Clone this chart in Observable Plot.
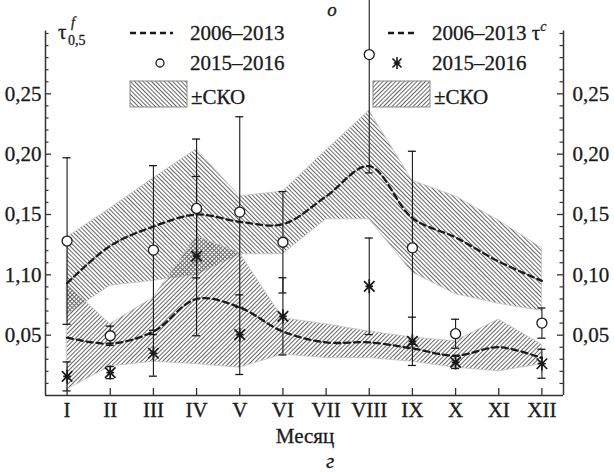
<!DOCTYPE html>
<html><head><meta charset="utf-8">
<script src="https://cdn.jsdelivr.net/npm/d3@7"></script>
<script src="https://cdn.jsdelivr.net/npm/@observablehq/plot@0.6"></script>
<style>body{margin:0;background:#fff} svg text, svg tspan{font-family:"Liberation Serif","DejaVu Serif",serif !important; stroke:#1a1a1a; stroke-width:0.3px;}</style>
</head><body><div id="chart"></div>
<script>
// ---- data ----
const months = [1,2,3,4,5,6,7,8,9,10,11,12];
const monthLabels = ["I","II","III","IV","V","VI","VII","VIII","IX","X","XI","XII"];
// 2006–2013, tau f 0.5 (mean and ±SD)
const fMean  = [0.093,0.124,0.140,0.150,0.144,0.142,0.165,0.190,0.147,0.131,0.111,0.095];
const fUpper = [0.131,0.155,0.180,0.204,0.165,0.169,0.203,0.236,0.178,0.165,0.145,0.122];
const fLower = [0.067,0.091,0.095,0.100,0.117,0.117,0.146,0.146,0.102,0.084,0.076,0.070];
// 2006–2013, tau c (mean and ±SD)
const cMean  = [0.048,0.043,0.053,0.080,0.073,0.053,0.044,0.044,0.039,0.033,0.040,0.031];
const cUpper = [0.092,0.059,0.081,0.132,0.118,0.064,0.059,0.053,0.048,0.045,0.063,0.042];
const cLower = [0.005,0.024,0.028,0.026,0.023,0.034,0.031,0.031,0.028,0.023,0.020,0.026];
// 2015–2016 observations
const obsMonths = [1,2,3,4,5,6,8,9,10,12];
const fObs = [0.128,0.0495,0.1205,0.155,0.152,0.127,0.2825,0.1224,0.0512,0.060];
const fErr = [0.069,0.008,0.070,0.0575,0.079,0.042,0.098,0.080,0.012,0.0125];
const cObs = [0.0158,0.019,0.035,0.1155,0.0504,0.0656,0.0905,0.0449,0.0274,0.0263];
const cErr = [0.012,0.005,0.019,0.066,0.033,0.032,0.040,0.020,0.005,0.012];
// axis ticks
const yMajor = [0.05,0.10,0.15,0.20,0.25];
const yLabelsLeft  = ["0,05","1,10","0,15","0,20","0,25"];
const yLabelsRight = ["0,05","0,10","0,15","0,20","0,25"];
const yMinor = [0.01,0.02,0.03,0.04,0.06,0.07,0.08,0.09,0.11,0.12,0.13,0.14,0.16,0.17,0.18,0.19,0.21,0.22,0.23,0.24,0.26,0.27,0.28,0.29,0.30];

const clim = months.map((m,i)=>({m, fMean:fMean[i], fUpper:fUpper[i], fLower:fLower[i], cMean:cMean[i], cUpper:cUpper[i], cLower:cLower[i]}));
const obs = obsMonths.map((m,i)=>({m, f:fObs[i], fe:fErr[i], c:cObs[i], ce:cErr[i]}));

const FS = 21;
const FF = "Liberation Serif, DejaVu Serif, serif";
const ink = "#1a1a1a";
const axisW = 1.5;

// asterisk: vertical + two diagonals
const star = {draw(ctx, size){
  const r = Math.sqrt(size/Math.PI);
  const d = r*0.75;
  ctx.moveTo(0,-r); ctx.lineTo(0,r);
  ctx.moveTo(-d,-d); ctx.lineTo(d,d);
  ctx.moveTo(-d,d); ctx.lineTo(d,-d);
  ctx.moveTo(-r*0.55,0); ctx.lineTo(r*0.55,0);
}};

const plot = Plot.plot({
  width: 614, height: 472,
  marginTop: 33, marginBottom: 77, marginLeft: 45, marginRight: 51,
  x: {domain: [0.5, 12.5], axis: null},
  y: {domain: [0, 0.3], axis: null},
  style: {fontFamily: FF, fontSize: FS + "px", color: ink, background: "white", overflow: "visible"},
  marks: [
    Plot.areaY(clim, {x:"m", y1:"fLower", y2:"fUpper", fill:"url(#hatchF)", stroke:"#c4c4c4", strokeWidth:0.8}),
    Plot.areaY(clim, {x:"m", y1:"cLower", y2:"cUpper", fill:"url(#hatchC)", stroke:"#c4c4c4", strokeWidth:0.8}),
    Plot.line(clim, {x:"m", y:"fMean", stroke:ink, strokeWidth:2.3, strokeDasharray:"6,4", curve:"catmull-rom"}),
    Plot.line(clim, {x:"m", y:"cMean", stroke:ink, strokeWidth:2.3, strokeDasharray:"6,4", curve:"catmull-rom"}),
    // error bars f
    Plot.ruleX(obs, {x:"m", y1:d=>d.f-d.fe, y2:d=>d.f+d.fe, stroke:ink, strokeWidth:1.1}),
    Plot.ruleY(obs, {x1:"m", x2:"m", y:d=>d.f-d.fe, insetLeft:-4, insetRight:-4, stroke:ink, strokeWidth:1.3}),
    Plot.ruleY(obs, {x1:"m", x2:"m", y:d=>d.f+d.fe, insetLeft:-4, insetRight:-4, stroke:ink, strokeWidth:1.3}),
    // error bars c
    Plot.ruleX(obs, {x:"m", y1:d=>d.c-d.ce, y2:d=>d.c+d.ce, stroke:ink, strokeWidth:1.1}),
    Plot.ruleY(obs, {x1:"m", x2:"m", y:d=>d.c-d.ce, insetLeft:-4, insetRight:-4, stroke:ink, strokeWidth:1.3}),
    Plot.ruleY(obs, {x1:"m", x2:"m", y:d=>d.c+d.ce, insetLeft:-4, insetRight:-4, stroke:ink, strokeWidth:1.3}),
    Plot.dot(obs, {x:"m", y:"c", symbol:star, r:7, stroke:ink, strokeWidth:1.7}),
    Plot.dot(obs, {x:"m", y:"c", r:1.8, fill:ink}),
    Plot.dot(obs, {x:"m", y:"f", r:5, fill:"white", stroke:ink, strokeWidth:1.3}),
    // axes frame
    Plot.ruleX([0.5], {y1:0, y2:0.302, stroke:"#333", strokeWidth:axisW}),
    Plot.ruleX([12.5], {y1:0, y2:0.302, stroke:"#333", strokeWidth:axisW}),
    Plot.ruleY([0], {x1:0.5, x2:12.5, stroke:"#333", strokeWidth:axisW}),
    Plot.ruleY(yMajor, {x1:0.5, x2:0.5, insetRight:-6, stroke:"#333", strokeWidth:1.3}),
    Plot.ruleY(yMinor, {x1:0.5, x2:0.5, insetRight:-3.5, stroke:"#333", strokeWidth:1.2}),
    Plot.ruleY(yMajor, {x1:12.5, x2:12.5, insetLeft:-6, stroke:"#333", strokeWidth:1.3}),
    Plot.ruleY(yMinor, {x1:12.5, x2:12.5, insetLeft:-3.5, stroke:"#333", strokeWidth:1.2}),
    Plot.ruleX(months, {y1:0, y2:0, insetBottom:7, stroke:"#333", strokeWidth:1.3}),
    Plot.text(yMajor, {x:0.5, y:d=>d, text:(d,i)=>yLabelsLeft[i], textAnchor:"end", dx:-4, fontSize:FS, fill:ink}),
    Plot.text(yMajor, {x:12.5, y:d=>d, text:(d,i)=>yLabelsRight[i], textAnchor:"start", dx:9, fontSize:FS, fill:ink}),
    Plot.text(months, {x:d=>d, y:0, text:(d,i)=>monthLabels[i], lineAnchor:"top", dy:7, fontSize:FS, fill:ink})
  ]
});

const svg = d3.select(plot);
const defs = svg.insert("defs", ":first-child");
function hatch(id, angle){
  const p = defs.append("pattern").attr("id", id).attr("patternUnits","userSpaceOnUse")
    .attr("width", 3).attr("height", 3).attr("patternTransform", `rotate(${angle})`);
  p.append("line").attr("x1",1.5).attr("y1",-1).attr("x2",1.5).attr("y2",4)
    .attr("stroke","#666").attr("stroke-width",1);
}
hatch("hatchF", -45);
hatch("hatchC", 45);

const g = svg.append("g").attr("fill", ink).attr("font-size", FS).attr("text-anchor","start");
// top / bottom letters
g.append("text").attr("x",332).attr("y",16).attr("font-size",19).attr("font-style","italic").attr("text-anchor","middle").text("о");
g.append("text").attr("x",330).attr("y",468).attr("font-style","italic").attr("text-anchor","middle").text("г");
g.append("text").attr("x",305).attr("y",443).attr("text-anchor","middle").text("Месяц");
// left axis title tau^f_{0,5}
g.append("text").attr("x",58).attr("y",39).text("τ");
g.append("text").attr("x",71).attr("y",27).attr("font-size",14).attr("font-style","italic").text("f");
g.append("text").attr("x",68).attr("y",45).attr("font-size",14).text("0,5");
// left legend
g.append("line").attr("x1",130).attr("x2",173).attr("y1",33).attr("y2",33).attr("stroke",ink).attr("stroke-width",2.3).attr("stroke-dasharray","6,4");
g.append("text").attr("x",190).attr("y",40).text("2006–2013");
g.append("circle").attr("cx",160).attr("cy",63).attr("r",4).attr("fill","white").attr("stroke",ink).attr("stroke-width",1.3);
g.append("text").attr("x",190).attr("y",70).text("2015–2016");
g.append("rect").attr("x",130).attr("y",81).attr("width",57).attr("height",26).attr("fill","url(#hatchF)").attr("stroke","#888").attr("stroke-width",1);
g.append("text").attr("x",191).attr("y",104).text("±СКО");
// right legend
g.append("line").attr("x1",388).attr("x2",416).attr("y1",33).attr("y2",33).attr("stroke",ink).attr("stroke-width",2.3).attr("stroke-dasharray","6,4");
const t = g.append("text").attr("x",432).attr("y",40);
t.append("tspan").text("2006–2013 τ");
t.append("tspan").attr("dy",-9).attr("font-size",14).attr("font-style","italic").text("c");
const sp = d3.path(); star.draw(sp, Math.PI*36);
g.append("path").attr("transform","translate(397,63)").attr("d", sp.toString()).attr("fill","none").attr("stroke",ink).attr("stroke-width",1.6);
g.append("circle").attr("cx",397).attr("cy",63).attr("r",1.6).attr("fill",ink);
g.append("text").attr("x",432).attr("y",70).text("2015–2016");
g.append("rect").attr("x",373).attr("y",81).attr("width",57).attr("height",26).attr("fill","url(#hatchC)").attr("stroke","#888").attr("stroke-width",1);
g.append("text").attr("x",434).attr("y",104).text("±СКО");

document.getElementById("chart").appendChild(plot);
</script>
</body></html>
